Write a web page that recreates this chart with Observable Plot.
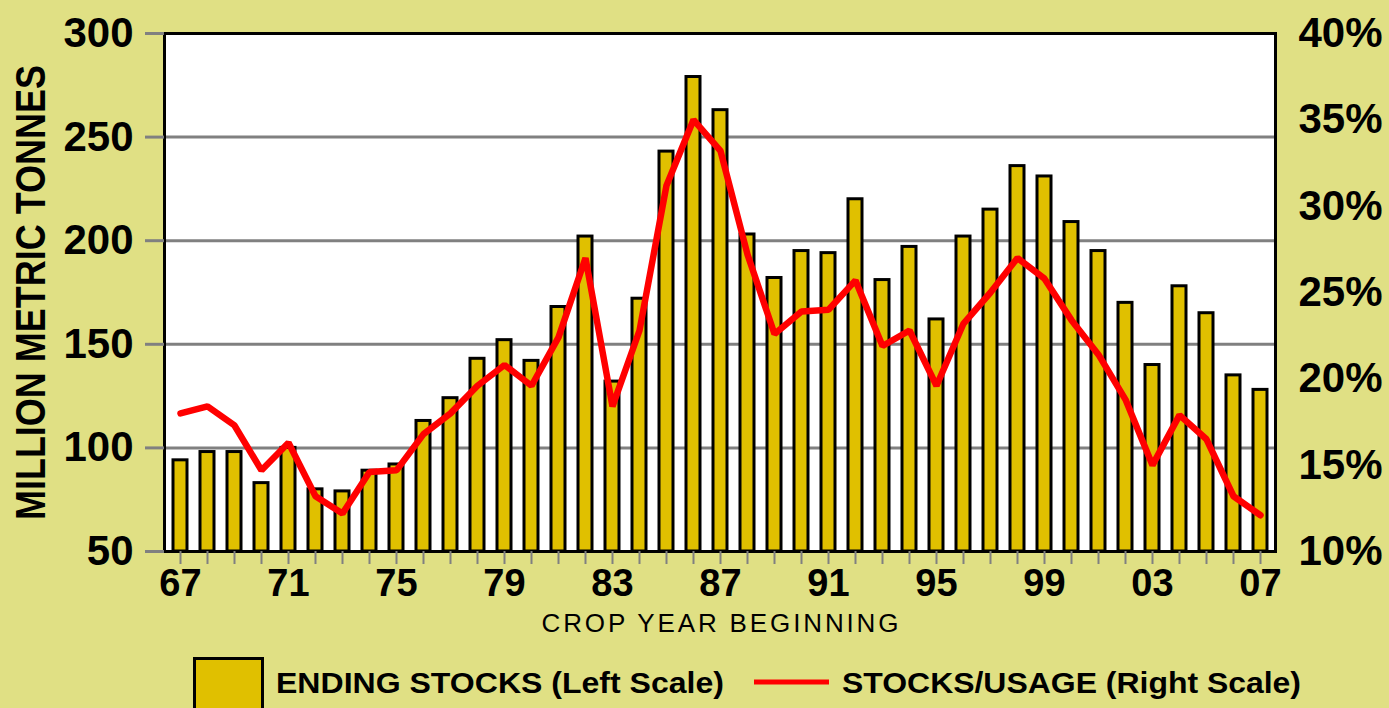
<!DOCTYPE html>
<html><head><meta charset="utf-8">
<script src="https://cdn.jsdelivr.net/npm/d3@7"></script>
<script src="https://cdn.jsdelivr.net/npm/@observablehq/plot@0.6"></script>
<style>
html,body{margin:0;padding:0;background:#E0E084;overflow:hidden;width:1389px;height:708px;}
#chart{position:absolute;left:0;top:0;}
#legend{position:absolute;left:0;top:640px;}
</style></head><body>
<div id="chart"></div>
<svg id="legend" width="1389" height="68"></svg>
<script>
const years = [1967,1968,1969,1970,1971,1972,1973,1974,1975,1976,1977,1978,1979,1980,1981,1982,1983,1984,1985,1986,1987,1988,1989,1990,1991,1992,1993,1994,1995,1996,1997,1998,1999,2000,2001,2002,2003,2004,2005,2006,2007];
const endingStocks = [94,98,98,83,100,80,79,89,92,113,124,143,152,142,168,202,132,172,243,279,263,203,182,195,194,220,181,197,162,202,215,236,231,209,195,170,140,178,165,135,128];
const stocksUsage = [18.0,18.4,17.3,14.7,16.3,13.2,12.2,14.6,14.7,16.8,18.0,19.6,20.8,19.6,22.4,27.0,18.4,22.8,31.2,35.0,33.2,27.2,22.6,23.9,24.0,25.7,21.9,22.8,19.6,23.2,25.0,27.0,25.8,23.4,21.4,18.8,15.0,17.9,16.5,13.2,12.1];
const leftTicks = [50,100,150,200,250,300];
const gridTicks = [100,150,200,250];
const rightTicks = [10,15,20,25,30,35,40];
const rightTickLabels = ["10%","15%","20%","25%","30%","35%","40%"];
const xLabelYears = [1967,1971,1975,1979,1983,1987,1991,1995,1999,2003,2007];
const xTickLabels = ["67","71","75","79","83","87","91","95","99","03","07"];
const yTitle = "MILLION METRIC TONNES";
const xTitle = "CROP YEAR BEGINNING";
const legendLabels = ["ENDING STOCKS (Left Scale)", "STOCKS/USAGE (Right Scale)"];

const rows = years.map((y, i) => ({year: y, stocks: endingStocks[i], ratio: stocksUsage[i]}));
// right scale (10%..40%) mapped onto the left scale (50..300)
const toLeft = p => 50 + (p - 10) * (250 / 30);

const FONT = "'Liberation Sans', Arial, Helvetica, sans-serif";

const plot = Plot.plot({
  width: 1389, height: 640,
  marginLeft: 164, marginRight: 114, marginTop: 33, marginBottom: 89,
  style: {background: "transparent", fontFamily: FONT, color: "black", overflow: "visible"},
  x: {type: "band", domain: years, paddingInner: 0.5, paddingOuter: 0.25},
  y: {domain: [50, 300]},
  marks: [
    Plot.frame({fill: "white", stroke: "none"}),
    Plot.ruleY(gridTicks, {stroke: "#808080", strokeWidth: 3}),
    Plot.barY(rows, {x: "year", y1: 50, y2: "stocks", fill: "#E0C000", stroke: "black", strokeWidth: 3}),
    Plot.line(rows, {x: "year", y: d => toLeft(d.ratio), stroke: "#FF0000", strokeWidth: 6.5, strokeLinejoin: "miter"}),
    Plot.frame({stroke: "black", strokeWidth: 3}),
    Plot.axisY({ticks: leftTicks, tickSize: 19, tickPadding: 12, stroke: "#808080", strokeWidth: 3,
      fill: "black", fontSize: 42, fontWeight: "bold", label: null}),
    Plot.axisX({ticks: years, tickSize: 13, tickPadding: 5, stroke: "#808080", strokeWidth: 2,
      fill: "black", fontSize: 38, fontWeight: "bold", label: null,
      tickFormat: d => { const i = xLabelYears.indexOf(d); return i >= 0 ? xTickLabels[i] : ""; }}),
    Plot.text(rightTicks, {y: p => toLeft(p), text: (p, i) => rightTickLabels[i], frameAnchor: "right",
      dx: 107, textAnchor: "end", lineAnchor: "middle", fontSize: 42, fontWeight: "bold", fill: "black"}),
    Plot.text([yTitle], {frameAnchor: "left", dx: -133, rotate: -90, textAnchor: "middle",
      lineAnchor: "middle", fontSize: 36, fontWeight: "bold", fill: "black"}),
    Plot.text([xTitle], {frameAnchor: "bottom", dy: 72, textAnchor: "middle", lineAnchor: "middle",
      fontSize: 26, fill: "black"})
  ]
});
document.getElementById("chart").appendChild(plot);

const svg = d3.select(plot);
// widen the rotated title's glyphs horizontally (tall condensed lettering)
svg.selectAll("text").filter(function() { return this.textContent === yTitle; })
  .each(function() {
    const t = this.getAttribute("transform") || "";
    this.setAttribute("transform", t.replace("rotate", "scale(1.2,1) rotate"));
  });
svg.selectAll("text").filter(function() { return this.textContent === xTitle; })
  .attr("textLength", 357).attr("lengthAdjust", "spacing");

// legend
const lg = d3.select("#legend").style("font-family", FONT);
lg.append("rect").attr("x", 194.5).attr("y", 18.5).attr("width", 68).attr("height", 60)
  .attr("fill", "#E0C000").attr("stroke", "black").attr("stroke-width", 3);
lg.append("text").attr("x", 276).attr("y", 53).attr("font-size", 29).attr("font-weight", "bold")
  .attr("textLength", 448).attr("lengthAdjust", "spacingAndGlyphs").text(legendLabels[0]);
lg.append("line").attr("x1", 754).attr("x2", 829).attr("y1", 42).attr("y2", 42)
  .attr("stroke", "#FF0000").attr("stroke-width", 5);
lg.append("text").attr("x", 842).attr("y", 53).attr("font-size", 29).attr("font-weight", "bold")
  .attr("textLength", 459).attr("lengthAdjust", "spacingAndGlyphs").text(legendLabels[1]);
</script>
</body></html>
